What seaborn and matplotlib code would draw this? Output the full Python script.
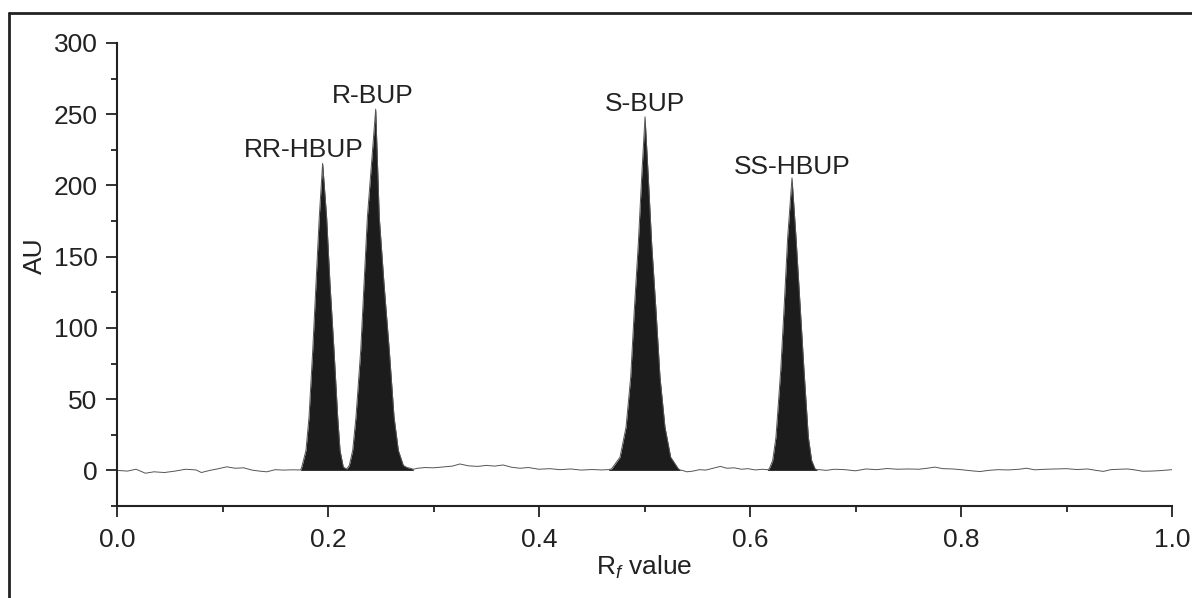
import seaborn as sns
import matplotlib.pyplot as plt
import pandas as pd
import numpy as np
from matplotlib.lines import Line2D
from matplotlib.ticker import MultipleLocator

# baseline trace between the peaks (Rf, AU)
base1_x = [0.000, 0.010, 0.018, 0.027, 0.035, 0.045, 0.055, 0.065, 0.075, 0.080, 0.088,
           0.095, 0.104, 0.112, 0.120, 0.128, 0.135, 0.142, 0.150, 0.158, 0.166, 0.172]
base1_y = [0.0, -0.5, 0.8, -2.0, -1.0, -1.5, -0.5, 0.8, 0.3, -1.5, 0.0,
           1.0, 2.5, 1.5, 1.8, 0.2, -0.5, -1.0, 0.5, 0.2, 0.4, 0.3]
base2_x = [0.285, 0.292, 0.300, 0.310, 0.318, 0.325, 0.333, 0.342, 0.350, 0.358, 0.366,
           0.374, 0.382, 0.390, 0.400, 0.410, 0.420, 0.430, 0.440, 0.450, 0.460, 0.464]
base2_y = [1.5, 2.0, 1.8, 2.5, 3.0, 4.5, 3.2, 2.8, 3.5, 3.0, 3.8,
           2.2, 1.5, 2.0, 0.8, 1.2, 0.5, 1.0, 0.2, 0.6, 0.3, 0.5]
base3_x = [0.536, 0.540, 0.546, 0.552, 0.558, 0.565, 0.572, 0.578, 0.585, 0.592, 0.598,
           0.605, 0.612, 0.615]
base3_y = [0.0, -1.0, -0.5, 0.5, 0.2, 1.5, 2.8, 1.5, 1.8, 0.8, 1.2, 0.3, 0.8, 0.5]
base4_x = [0.666, 0.672, 0.680, 0.690, 0.700, 0.710, 0.720, 0.730, 0.740, 0.750, 0.760,
           0.768, 0.775, 0.783, 0.792, 0.800, 0.810, 0.818, 0.826, 0.835, 0.845, 0.855,
           0.862, 0.870, 0.880, 0.890, 0.900, 0.910, 0.920, 0.928, 0.935, 0.942, 0.950,
           0.958, 0.965, 0.972, 0.980, 0.988, 0.995, 1.000]
base4_y = [0.5, 0.0, 0.8, 0.5, -0.3, 1.0, 0.5, 1.3, 0.8, 1.0, 0.8,
           1.5, 2.3, 1.2, 1.0, 0.5, -0.3, -0.8, 0.0, 0.5, 0.3, 0.8,
           1.5, 0.4, 0.8, 1.0, 1.2, 0.6, 1.0, 0.0, -0.7, 0.5, 0.8,
           1.0, 0.3, -0.6, -0.5, -0.2, 0.2, 0.5]

# peak profiles
r_peaks_x = [0.1740, 0.1751, 0.1791, 0.1820, 0.1855, 0.1886, 0.1917, 0.1949, 0.1987, 0.2019,
             0.2057, 0.2092, 0.2114, 0.2145, 0.2177, 0.2202, 0.2234, 0.2265, 0.2310, 0.2341,
             0.2373, 0.2452, 0.2486, 0.2531, 0.2581, 0.2626, 0.2667, 0.2714, 0.2750, 0.2780,
             0.2809]
r_peaks_y = [0.3, 2.3, 14.0, 37.4, 84.2, 130.9, 177.6, 215.5, 177.6, 130.9,
             84.2, 37.4, 14.0, 2.3, 1.0, 3.5, 14.0, 37.4, 84.2, 130.9,
             177.6, 253.6, 177.6, 130.9, 84.2, 37.4, 14.0, 3.5, 2.0, 1.5,
             0.8]
s_bup_x = [0.4660, 0.4689, 0.4768, 0.4825, 0.4869, 0.4903, 0.4941, 0.4973, 0.5005,
           0.5036, 0.5068, 0.5109, 0.5147, 0.5194, 0.5248, 0.5320, 0.5340]
s_bup_y = [0.5, 1.2, 9.3, 30.4, 65.4, 112.2, 159.0, 205.7, 248.2,
           205.7, 159.0, 112.2, 65.4, 30.4, 9.3, 1.2, 0.2]
ss_hbup_x = [0.6165, 0.6183, 0.6215, 0.6246, 0.6291, 0.6325, 0.6357, 0.6398,
             0.6436, 0.6474, 0.6512, 0.6553, 0.6584, 0.6616, 0.6635]
ss_hbup_y = [0.5, 1.2, 7.0, 23.4, 70.1, 116.9, 163.6, 205.3,
             163.6, 116.9, 70.1, 23.4, 7.0, 1.2, 0.5]

# peak labels (text, Rf, AU)
label_text = ["RR-HBUP", "R-BUP", "S-BUP", "SS-HBUP"]
label_x = [0.177, 0.242, 0.5005, 0.640]
label_y = [225, 263, 257, 213]

peaks = [(r_peaks_x, r_peaks_y), (s_bup_x, s_bup_y), (ss_hbup_x, ss_hbup_y)]

trace = pd.DataFrame({
    "Rf": base1_x + r_peaks_x + base2_x + s_bup_x + base3_x + ss_hbup_x + base4_x,
    "AU": base1_y + r_peaks_y + base2_y + s_bup_y + base3_y + ss_hbup_y + base4_y,
})

sns.set_style("ticks")
plt.rcParams['font.family'] = ['Liberation Sans', 'DejaVu Sans']
plt.rcParams['mathtext.fontset'] = 'custom'
plt.rcParams['mathtext.rm'] = 'Liberation Sans'
plt.rcParams['mathtext.it'] = 'Liberation Sans:italic'

fig = plt.figure(figsize=(11.92, 5.98), dpi=100)
ax = fig.add_axes([117 / 1192, 1 - 506 / 598, 1055 / 1192, 463 / 598])

sns.lineplot(data=trace, x="Rf", y="AU", ax=ax, color="#555555", lw=0.7,
             estimator=None, sort=False)
for px, py in peaks:
    ax.fill_between(px, 0, py, color="#1c1c1c", lw=0)

for t, x, y in zip(label_text, label_x, label_y):
    ax.text(x, y, t, ha="center", va="center", fontsize=19, color="#222222")

ax.set_xlim(0, 1.0)
ax.set_ylim(-25, 300)
ax.xaxis.set_major_locator(MultipleLocator(0.2))
ax.xaxis.set_minor_locator(MultipleLocator(0.1))
ax.yaxis.set_major_locator(MultipleLocator(50))
ax.yaxis.set_minor_locator(MultipleLocator(25))
ax.xaxis.set_major_formatter(plt.FuncFormatter(lambda v, p: f"{v:.1f}"))
ax.tick_params(which="major", length=8, width=1.3, labelsize=19, color="#222222",
               labelcolor="#222222", pad=6)
ax.tick_params(axis="x", which="major", pad=8)
ax.tick_params(which="minor", length=4.5, width=1.3, color="#222222")
sns.despine(ax=ax)
for s in ["left", "bottom"]:
    ax.spines[s].set_linewidth(1.5)
    ax.spines[s].set_color("#222222")

ax.set_xlabel(r"R$_{\mathit{f}}$ value", fontsize=19, color="#222222", labelpad=1)
ax.set_ylabel("AU", fontsize=19, color="#222222")
ax.yaxis.set_label_coords(-0.066, 0.54)

# frame of the cropped figure (top and left edges visible)
fig.add_artist(Line2D([9 / 1192, 1.0], [1 - 13 / 598] * 2, transform=fig.transFigure,
                      color="#222222", lw=2))
fig.add_artist(Line2D([9 / 1192] * 2, [0.0, 1 - 13 / 598], transform=fig.transFigure,
                      color="#222222", lw=2))

plt.savefig("out.png", dpi=100)
